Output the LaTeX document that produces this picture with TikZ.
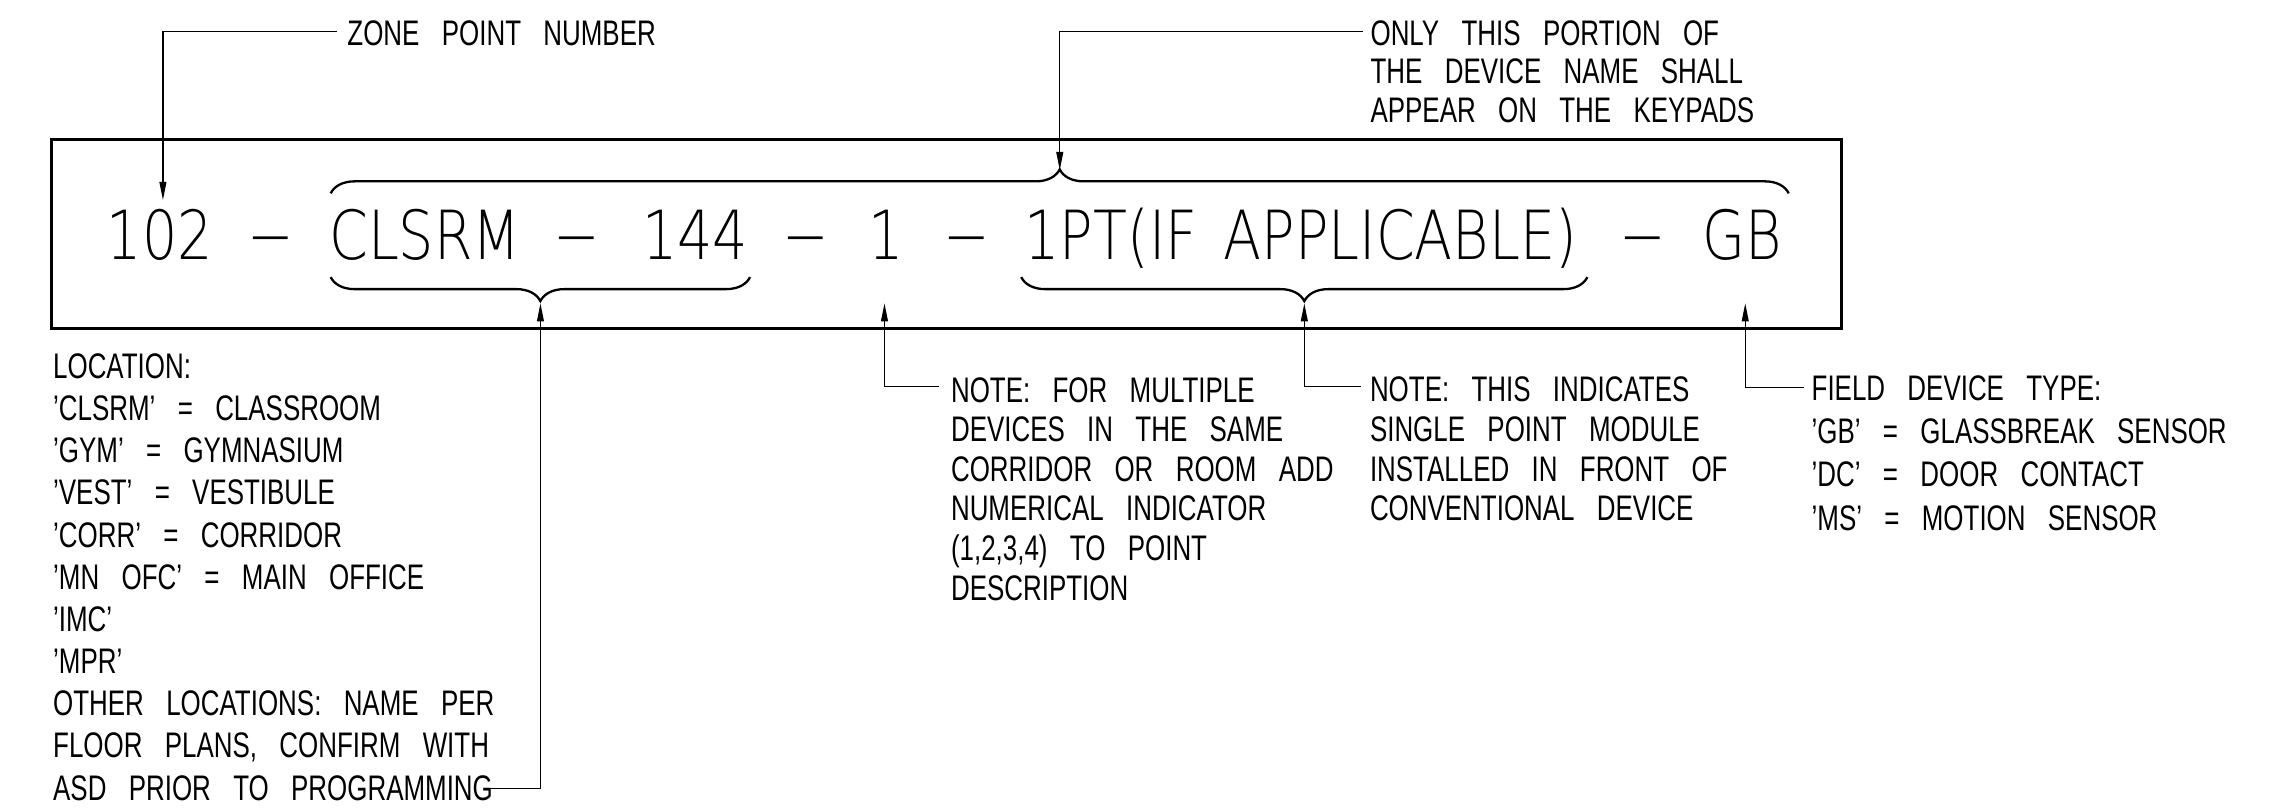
\documentclass[tikz,border=0pt]{standalone}
\usepackage{fontspec}
\setmainfont{Liberation Sans}[FakeStretch=0.73,WordSpace=3.1]
\newfontfamily\namefont{DejaVu Sans}[UprightFont=* ExtraLight,FakeStretch=0.82,WordSpace=1.5]
\usetikzlibrary{arrows.meta,decorations.pathreplacing}

\begin{document}
\begin{tikzpicture}[x=0.02cm,y=-0.02cm,
    leader/.style={line width=0.5pt,-{Triangle[length=2.5mm,width=0.95mm]}},
    lbl/.style={anchor=base west,inner sep=0pt,align=left,font=\fontsize{13.9}{#1}\selectfont},
    lbl/.default=15.5,
    big/.style={anchor=base west,inner sep=0pt,font=\namefont\fontsize{26.5}{30}\selectfont},
    curly/.style={line width=0.9pt,decorate,decoration={brace,amplitude=0.33cm}}]
    \useasboundingbox (0,0) rectangle (1568,555);
    % device name box
    \draw[line width=1.15pt] (35.7,96.2) rectangle (1266,226);
    \node[big] (n102) at (73,178.7) {102};
    \node[big] (da) at (170,178.7) {−};
    \node[big] (clsrm) at (226,178.7) {CLSRM};
    \node[big] (db) at (380,178.7) {−};
    \node[big] (n144) at (441,178.7) {144};
    \node[big] (dc) at (537.5,178.7) {−};
    \node[big] (none) at (597,178.7) {1};
    \node[big] (dd) at (648.4,178.7) {−};
    \node[big] (npt) at (704,178.7) {1PT(IF APPLICABLE)};
    \node[big] (de) at (1112.8,178.7) {−};
    \node[big] (ngb) at (1170,178.7) {GB};
    % braces
    \coordinate (ta) at (227.3,132.9);
    \coordinate (tb) at (1229.6,132.9);
    \coordinate (la) at (227.3,190.5);
    \coordinate (lb) at (515.6,190.5);
    \coordinate (pa) at (702,190.5);
    \coordinate (pb) at (1091.2,190.5);
    \draw[curly] (ta) -- (tb);
    \draw[curly] (lb) -- (la);
    \draw[curly] (pb) -- (pa);
    \coordinate (topcusp) at (728.5,116.9);
    \coordinate (loccusp) at (371.5,208.5);
    \coordinate (ptcusp) at (896.6,208.5);
    \coordinate (t102) at (112,137.5);
    \coordinate (tone) at (608,208.5);
    \coordinate (tgb) at (1199.7,208.5);
    % labels (placed at the baseline of their last line)
    \node[lbl] (zone) at (238.5,31) {ZONE POINT NUMBER};
    \node[lbl=15.1] (keypad) at (941.8,84) {ONLY THIS PORTION OF\\THE DEVICE NAME SHALL\\APPEAR ON THE KEYPADS};
    \node[lbl=16.5] (loc) at (36.2,550) {LOCATION:\\’CLSRM’ = CLASSROOM\\’GYM’ = GYMNASIUM\\’VEST’ = VESTIBULE\\’CORR’ = CORRIDOR\\’MN OFC’ = MAIN OFFICE\\’IMC’\\’MPR’\\OTHER LOCATIONS: NAME PER\\FLOOR PLANS, CONFIRM WITH\\ASD PRIOR TO PROGRAMMING};
    \node[lbl] (multi) at (653.4,412.5) {NOTE: FOR MULTIPLE\\DEVICES IN THE SAME\\CORRIDOR OR ROOM ADD\\NUMERICAL INDICATOR\\(1,2,3,4) TO POINT\\DESCRIPTION};
    \node[lbl] (spm) at (941.4,357.9) {NOTE: THIS INDICATES\\SINGLE POINT MODULE\\INSTALLED IN FRONT OF\\CONVENTIONAL DEVICE};
    \node[lbl=16.96] (field) at (1245,364.4) {FIELD DEVICE TYPE:\\’GB’ = GLASSBREAK SENSOR\\’DC’ = DOOR CONTACT\\’MS’ = MOTION SENSOR};
    % leaders
    \draw[leader] ([shift={(-7,-9.2)}]zone.base west) -| (t102);
    \draw[leader] ([shift={(-5,-62.2)}]keypad.base west) -| (topcusp);
    \draw[leader] ([shift={(298.3,-8.1)}]loc.base west) -| (loccusp);
    \draw[leader] ([shift={(-8,-146.7)}]multi.base west) -| (tone);
    \draw[leader] ([shift={(-6,-92.1)}]spm.base west) -| (ptcusp);
    \draw[leader] ([shift={(-5,-98.1)}]field.base west) -| (tgb);
\end{tikzpicture}
\end{document}
